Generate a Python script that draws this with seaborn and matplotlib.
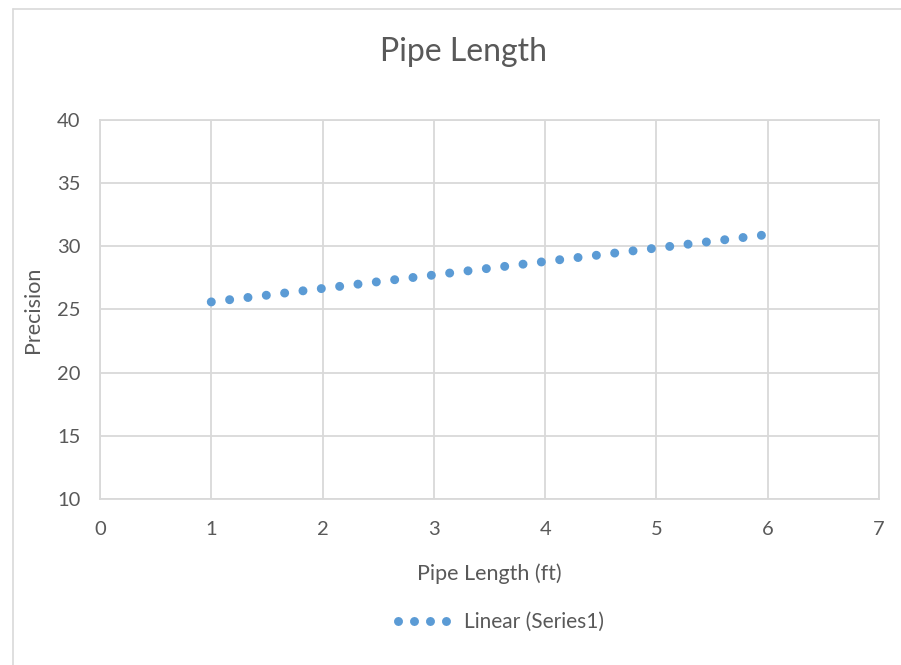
import matplotlib
matplotlib.use("Agg")
import matplotlib.pyplot as plt
import matplotlib.lines as mlines
import seaborn as sns
import pandas as pd

# Data: linear trendline of Series1 (endpoints)
trend_x = [1.0, 5.95]
trend_y = [25.6, 30.88]
series_label = "Linear (Series1)"
title = "Pipe Length"
x_label = "Pipe Length (ft)"
y_label = "Precision"
x_ticks = [0, 1, 2, 3, 4, 5, 6, 7]
y_ticks = [10, 15, 20, 25, 30, 35, 40]

sns.set_theme(style="white")
plt.rcParams['font.family'] = ['Lato', 'DejaVu Sans']

text_color = "#595959"
grid_color = "#d9d9d9"
dot_color = "#5b9bd5"

fig = plt.figure(figsize=(9.01, 6.65), dpi=100)
ax = fig.add_axes([100/901, 1-499/665, (879-100)/901, (499-120)/665])

df = pd.DataFrame({"x": trend_x, "y": trend_y})
lw = 6.5
sns.lineplot(data=df, x="x", y="y", ax=ax, color=dot_color, linewidth=lw,
             legend=False)
line = ax.lines[0]
line.set_linestyle((0, (0.001, 2.045)))
line.set_dash_capstyle("round")
line.set_solid_capstyle("round")

ax.set_xlim(x_ticks[0], x_ticks[-1])
ax.set_ylim(y_ticks[0], y_ticks[-1])
ax.set_xticks(x_ticks)
ax.set_yticks(y_ticks)
ax.grid(True, color=grid_color, linewidth=1.3)
ax.set_axisbelow(True)
for s in ax.spines.values():
    s.set_color(grid_color)
    s.set_linewidth(1.3)
ax.tick_params(axis="both", length=0, labelsize=14.5, labelcolor=text_color)
ax.tick_params(axis="x", pad=16)
ax.tick_params(axis="y", pad=14)
ax.set_xlabel(x_label, fontsize=15.5, color=text_color, labelpad=18)
ax.set_ylabel(y_label, fontsize=15.5, color=text_color, labelpad=10)

fig.text(463/901, 1-52/665, title, ha="center", va="center", fontsize=23,
         color=text_color)

handle = mlines.Line2D([], [], color=dot_color, linewidth=lw,
                       linestyle=(0, (0.001, 1.77)), dash_capstyle="round")
leg = fig.legend([handle], [series_label], loc="center",
                 bbox_to_anchor=(501/901, 1-622/665), frameon=False,
                 fontsize=15, handlelength=2.35, handletextpad=0.85)
for t in leg.get_texts():
    t.set_color(text_color)

# Spreadsheet frame around the chart area
fig.add_artist(mlines.Line2D([13/901, 1], [1-9/665, 1-9/665], color="#d9d9d9",
                             linewidth=1.2, transform=fig.transFigure))
fig.add_artist(mlines.Line2D([13/901, 13/901], [0, 1-9/665], color="#d9d9d9",
                             linewidth=1.2, transform=fig.transFigure))

fig.savefig("out.png", dpi=100, facecolor="white")
